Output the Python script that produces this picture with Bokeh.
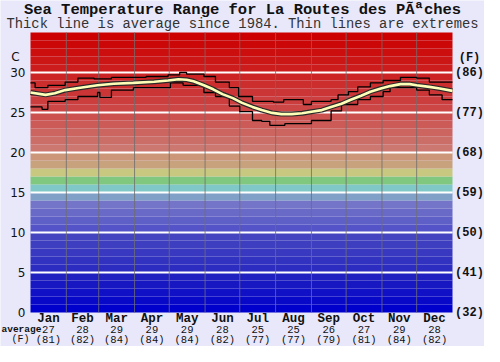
from bokeh.plotting import figure
from bokeh.models import Range1d
from bokeh.embed import file_html
from bokeh.resources import INLINE
from bokeh.core.properties import value

# ---------------- data ----------------
months = ["Jan", "Feb", "Mar", "Apr", "May", "Jun", "Jul", "Aug", "Sep", "Oct", "Nov", "Dec"]
month_start = [0, 31, 59, 90, 120, 151, 181, 212, 243, 273, 304, 334, 365]
avg_c = [27, 28, 29, 29, 29, 28, 25, 25, 26, 27, 29, 28]
avg_f = [81, 82, 84, 84, 84, 82, 77, 77, 79, 81, 84, 82]

c_ticks = [0, 5, 10, 15, 20, 25, 30]
c_labels = ["0", "5", "10", "15", "20", "25", "30"]
f_labels = ["(32)", "(41)", "(50)", "(59)", "(68)", "(77)", "(86)"]

avg_day = [0, 13, 21, 30, 43, 58, 72, 89, 107, 119, 128, 135, 141, 150, 158, 166, 175, 183,
           192, 200, 209, 217, 226, 235, 243, 252, 260, 269, 277, 286, 294, 303, 311, 320,
           328, 334, 345, 354, 365]
avg_temp = [27.5, 27.2, 27.4, 27.8, 28.1, 28.4, 28.6, 28.7, 28.85, 29.0, 29.15, 29.1, 28.9,
            28.4, 27.9, 27.3, 26.8, 26.2, 25.7, 25.3, 24.95, 24.8, 24.8, 24.9, 25.1, 25.3,
            25.7, 26.1, 26.6, 27.1, 27.6, 28.0, 28.3, 28.55, 28.55, 28.4, 28.2, 28.0, 27.7]

max_day = [0, 4, 15, 30, 41, 55, 70, 89, 100, 119, 129, 135, 150, 160, 172, 180, 192, 210,
           219, 236, 243, 260, 266, 275, 283, 294, 305, 320, 334, 345, 365]
max_temp = [28.7, 28.1, 28.4, 28.8, 29.3, 29.2, 29.4, 29.4, 29.5, 29.7, 30.0, 29.8, 29.5,
            28.8, 28.1, 27.0, 26.4, 26.3, 26.6, 26.0, 26.4, 26.6, 27.2, 27.6, 28.2, 28.7,
            29.0, 29.4, 29.3, 28.8, 28.8]

min_day = [0, 10, 15, 30, 41, 58, 60, 70, 89, 121, 132, 150, 160, 172, 181, 192, 200, 207,
           220, 243, 260, 269, 283, 294, 305, 311, 334, 345, 356, 365]
min_temp = [25.7, 25.4, 26.4, 26.6, 27.0, 27.5, 26.9, 27.8, 28.1, 28.7, 28.4, 27.5, 27.0,
            25.8, 25.1, 24.0, 23.9, 23.4, 23.6, 24.0, 25.2, 26.0, 26.6, 27.0, 27.6, 28.1,
            27.8, 27.2, 26.6, 26.6]

title_text = "Sea Temperature Range for La Routes des PÃªches"
subtitle_text = "Thick line is average since 1984. Thin lines are extremes"

# ---------------- layout (pixels inside the 484x346 canvas) ----------------
W, H = 484, 346
L, R = 30, 452          # coloured area, left/right
T, B = 32, 312          # coloured area, top/bottom
DAYS, TMAX = 365, 35
ppd = (R - L) / DAYS
ppc = (B - T) / TMAX


def dx(px):
    return px / ppd


def dy(px):
    return px / ppc


BG = "#e8e8fa"
MONO = "Liberation Mono"
INK = "#111111"

color_anchors = [
    (0, (0, 0, 204)), (4, (32, 32, 192)), (5, (44, 44, 192)), (9, (68, 68, 192)),
    (10, (84, 84, 200)), (13, (116, 116, 200)),
]
special = {14: (128, 160, 200), 15: (128, 200, 200), 16: (128, 200, 128),
           17: (200, 200, 128), 18: (200, 162, 124), 19: (204, 150, 120)}
red_anchors = [(20, (204, 120, 112)), (25, (204, 70, 70)), (30, (204, 28, 28)), (34, (204, 0, 0))]


def interp(anchors, t):
    for (t0, c0), (t1, c1) in zip(anchors[:-1], anchors[1:]):
        if t0 <= t <= t1:
            f = (t - t0) / (t1 - t0)
            return tuple(int(round(a + (b - a) * f)) for a, b in zip(c0, c1))
    return anchors[-1][1]


def band_color(t):
    if t in special:
        c = special[t]
    elif t < 14:
        c = interp(color_anchors, t)
    else:
        c = interp(red_anchors, t)
    return "#%02x%02x%02x" % c


band_bottom = list(range(0, TMAX))
band_top = [b + 1 for b in band_bottom]
band_colors = [band_color(b) for b in band_bottom]

# ---------------- figure ----------------
p = figure(width=W, height=H,
           x_range=Range1d(-dx(L), dx(W - L)), y_range=Range1d(-dy(H - B), dy(B)),
           output_backend="svg", toolbar_location=None, title=None,
           x_axis_location=None, y_axis_location=None,
           min_border_left=0, min_border_right=0, min_border_top=0, min_border_bottom=0,
           border_fill_color=BG, background_fill_color=BG, outline_line_color=None)
p.xgrid.visible = False
p.ygrid.visible = False

p.quad(left=0, right=DAYS, bottom=band_bottom, top=band_top, fill_color=band_colors,
       line_color=None)

grid_y = c_ticks[1:]
p.segment(x0=[0] * len(grid_y), x1=[DAYS] * len(grid_y), y0=grid_y, y1=grid_y,
          line_color="white", line_width=2)
inner = month_start[1:-1]
p.segment(x0=inner, x1=inner, y0=[0] * len(inner), y1=[TMAX] * len(inner),
          line_color="#6e6e6e", line_width=1, line_alpha=0.8)

p.step(max_day, max_temp, mode="after", line_color="black", line_width=1.3)
p.step(min_day, min_temp, mode="after", line_color="black", line_width=1.3)
p.line(avg_day, avg_temp, line_color="#2a2a2a", line_width=5)
p.line(avg_day, avg_temp, line_color="#ffffb8", line_width=2.6)

# titles
mid_x = dx(W / 2 - L)
p.text(x=[mid_x], y=[dy(B - 9)], text=[title_text], text_align="center",
       text_baseline="middle", text_font=value(MONO), text_font_size="15.5px",
       text_font_style="bold", text_color=INK)
p.text(x=[mid_x], y=[dy(B - 24)], text=[subtitle_text], text_align="center",
       text_baseline="middle", text_font=value(MONO), text_font_size="13.8px",
       text_color="#333333")

# left labels (C)
p.text(x=[-dx(5)] * len(c_ticks), y=c_ticks, text=c_labels, text_align="right",
       text_baseline="middle", text_font=value("DejaVu Sans"), text_font_size="12px",
       text_color=INK)
p.text(x=[-dx(15)], y=[32], text=["C"], text_align="center", text_baseline="middle",
       text_font=value("DejaVu Sans"), text_font_size="12px", text_color=INK)

# right labels (F)
p.text(x=[DAYS + dx(17)] * len(c_ticks), y=c_ticks, text=f_labels, text_align="center",
       text_baseline="middle", text_font=value(MONO), text_font_size="12px",
       text_font_style="bold", text_color=INK)
p.text(x=[DAYS + dx(17)], y=[31.8], text=["(F)"], text_align="center",
       text_baseline="middle", text_font=value(MONO), text_font_size="12px",
       text_font_style="bold", text_color=INK)

# bottom rows
month_mid = [(a + b) / 2 for a, b in zip(month_start[:-1], month_start[1:])]
n = len(month_mid)
p.text(x=month_mid, y=[-dy(6)] * n, text=months, text_align="center",
       text_baseline="middle", text_font=value(MONO), text_font_size="12.5px",
       text_font_style="bold", text_color=INK)
p.text(x=month_mid, y=[-dy(17)] * n, text=[str(v) for v in avg_c], text_align="center",
       text_baseline="middle", text_font=value(MONO), text_font_size="10.5px",
       text_color=INK)
p.text(x=month_mid, y=[-dy(27)] * n, text=["(%d)" % v for v in avg_f], text_align="center",
       text_baseline="middle", text_font=value(MONO), text_font_size="10.5px",
       text_color=INK)
p.text(x=[-dx(L - 1)], y=[-dy(17)], text=["average"], text_align="left",
       text_baseline="middle", text_font=value(MONO), text_font_size="9.5px",
       text_font_style="bold", text_color=INK)
p.text(x=[-dx(L - 20)], y=[-dy(27)], text=["(F)"], text_align="center",
       text_baseline="middle", text_font=value(MONO), text_font_size="10px",
       text_color=INK)

open("out.html", "w").write(file_html(p, INLINE))
